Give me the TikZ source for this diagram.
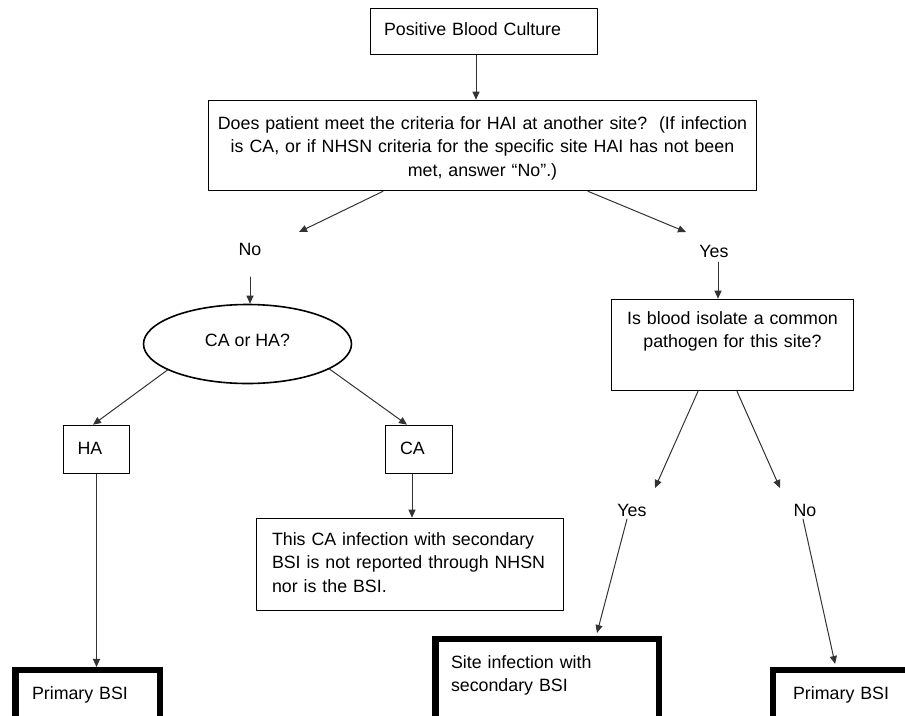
\documentclass[tikz,border=0pt]{standalone}
\usepackage{fontspec}
\setmainfont{Liberation Sans}
\usetikzlibrary{shapes.geometric,arrows.meta}

\begin{document}
\begin{tikzpicture}[x=1pt,y=-1pt,>={Triangle[length=8pt,width=7pt]}, font=\fontsize{17.8}{23.5}\selectfont, line join=round, line cap=round,
	box/.style={draw,line width=1.6pt,inner sep=0pt,text height=13pt},
	endbox/.style={draw,line width=6.5pt,line join=miter,inner ysep=0pt,text height=13pt,align=left},
	lbl/.style={inner sep=1pt},
	link/.style={->,draw=black!80,line width=1pt}]
	\useasboundingbox (0,0) rectangle (905,715);
	\path
	(484,31.5) node[box,minimum width=227pt,minimum height=46pt,inner xsep=13.5pt,text width=200pt,text depth=6pt,align=left] (pbc) {Positive Blood Culture}
	(482.5,145.5) node[box,minimum width=548pt,minimum height=90pt,text width=530pt,text depth=46pt,align=center] (crit) {Does patient meet the criteria for HAI at another site?\ \ (If infection\\ is CA, or if NHSN criteria for the specific site HAI has not been\\ met, answer ``No''.)}
	(250,249) node[lbl] (no1) {No}
	(714,251) node[lbl] (yes1) {Yes}
	(247.5,344) node[ellipse,draw,line width=1.6pt,minimum width=208pt,minimum height=79pt,inner sep=0pt,text height=13pt,text depth=9pt] (ell) {CA or HA?}
	(96.5,449.5) node[box,minimum width=66pt,minimum height=48pt,inner xsep=14pt,text width=38pt,text depth=4pt,align=left] (ha) {HA}
	(419,449.5) node[box,minimum width=67pt,minimum height=48pt,inner xsep=14.5pt,text width=38pt,text depth=4pt,align=left] (ca) {CA}
	(410,564.5) node[box,minimum width=307pt,minimum height=92pt,inner xsep=15.5pt,text width=276pt,text depth=52pt,align=left] (note) {This CA infection with secondary\\ BSI is not reported through NHSN\\ nor is the BSI.}
	(732.5,345) node[box,minimum width=242pt,minimum height=91pt,text width=230pt,text depth=55pt,align=center] (q) {Is blood isolate a common\\ pathogen for this site?}
	(632,510) node[lbl] (yes2) {Yes}
	(805,510) node[lbl] (no2) {No}
	(87.5,702.6) node[endbox,minimum width=144.5pt,minimum height=64.75pt,inner xsep=16.75pt,text width=111pt,text depth=20pt] (pbsi1) {Primary BSI}
	(547,687.1) node[endbox,minimum width=223.5pt,minimum height=95.75pt,inner xsep=15.75pt,text width=192pt,text depth=51pt] (site) {Site infection with\\ secondary BSI}
	(853.1,702.6) node[endbox,minimum width=159.75pt,minimum height=64.75pt,inner xsep=14.75pt,text width=120pt,text depth=20pt] (pbsi2) {Primary BSI}
	;
	\draw[link] ([xshift=-8pt]pbc.south) -- ([xshift=-8pt]pbc.south |- crit.north);
	\draw[link] ([xshift=-99.5pt]crit.south) -- ([xshift=49pt,yshift=17pt]no1.center);
	\draw[link] ([xshift=105.5pt]crit.south) -- ([xshift=-28pt,yshift=19pt]yes1.center);
	\draw[link] ([yshift=-28pt]no1.center) -- (no1.center |- ell.north);
	\draw[link] ([xshift=4pt,yshift=-11pt]yes1.center) -- ([xshift=4pt]yes1.center |- q.north);
	\draw[link] (ell.-162) -- ([xshift=-3.5pt]ha.north);
	\draw[link] (ell.-17) -- ([xshift=-12pt]ca.north);
	\draw[link] (ha.south) -- (ha.south |- pbsi1.north);
	\draw[link] ([xshift=-7pt]ca.south) -- ([xshift=-7pt]ca.south |- note.north);
	\draw[link] ([xshift=-34.5pt]q.south) -- ([xshift=23pt,yshift=22pt]yes2.center);
	\draw[link] ([xshift=4.5pt]q.south) -- ([xshift=-25pt,yshift=22pt]no2.center);
	\draw[link] ([xshift=-5pt,yshift=-9pt]yes2.center) -- ([xshift=50pt,yshift=3pt]site.north);
	\draw[link] ([xshift=-2pt,yshift=-9pt]no2.center) -- ([xshift=-18pt,yshift=3pt]pbsi2.north);
\end{tikzpicture}
\end{document}
